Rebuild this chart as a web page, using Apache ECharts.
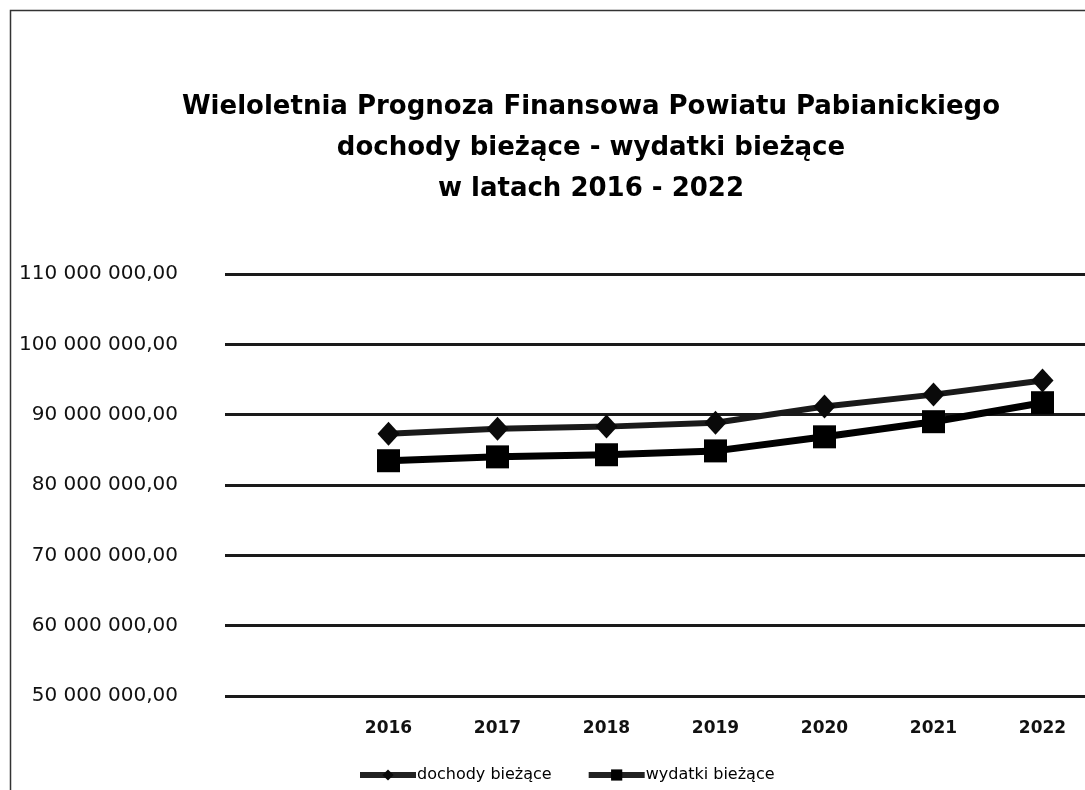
<!DOCTYPE html>
<html>
<head>
<meta charset="utf-8">
<script src="https://cdn.jsdelivr.net/npm/echarts@6/dist/echarts.min.js"></script>
<style>
html,body{margin:0;padding:0;background:#fff;}
#chart{width:1085px;height:790px;}
</style>
</head>
<body>
<div id="chart"></div>
<script>
const years = ['2016','2017','2018','2019','2020','2021','2022'];
const dochody = [87300000, 88000000, 88300000, 88850000, 91150000, 92850000, 94850000];
const wydatki = [83450000, 84000000, 84300000, 84850000, 86850000, 89000000, 91700000];
const yTicks = [50000000, 60000000, 70000000, 80000000, 90000000, 100000000, 110000000];
const titleLines = ['Wieloletnia Prognoza Finansowa Powiatu Pabianickiego', 'dochody bieżące - wydatki bieżące', 'w latach 2016 - 2022'];
const seriesNames = ['dochody bieżące', 'wydatki bieżące'];

function fmt(v){
  const s = String(Math.round(v));
  let out = '';
  for (let i = 0; i < s.length; i++){
    if (i > 0 && (s.length - i) % 3 === 0) out += ' ';
    out += s[i];
  }
  return out + ',00';
}

const chart = echarts.init(document.getElementById('chart'));
chart.setOption({
  backgroundColor: '#fff',
  animation: false,
  title: {
    text: titleLines.join('\n'),
    left: 586,
    top: 82,
    textAlign: 'center',
    textStyle: {fontFamily: 'DejaVu Sans', fontWeight: 'bold', fontSize: 26, lineHeight: 41, color: '#000'}
  },
  graphic: [{
    type: 'rect', left: 8, top: 8, silent: true,
    shape: {width: 1100, height: 800},
    style: {fill: 'none', stroke: '#333', lineWidth: 1.5}
  }],
  legend: {
    data: seriesNames,
    left: 352,
    top: 762,
    itemWidth: 56,
    itemHeight: 14,
    itemGap: 34,
    lineStyle: {width: 6, color: '#222'},
    textStyle: {fontFamily: 'DejaVu Sans', fontSize: 16, color: '#000', padding: [0,0,0,-4]}
  },
  grid: {left: 225, right: -12, top: 274, bottom: 94, outerBoundsMode: 'none', containLabel: false},
  xAxis: {
    type: 'category',
    data: [''].concat(years),
    boundaryGap: true,
    axisLine: {show: false},
    axisTick: {show: false},
    axisLabel: {margin: 24, fontFamily: 'DejaVu Sans', fontWeight: 'bold', fontSize: 17, color: '#111'},
    splitLine: {show: false}
  },
  yAxis: {
    type: 'value',
    min: yTicks[0],
    max: yTicks[yTicks.length - 1],
    interval: yTicks[1] - yTicks[0],
    axisLine: {show: false},
    axisTick: {show: false},
    axisLabel: {margin: 47, fontFamily: 'DejaVu Sans', fontSize: 20, color: '#111', formatter: fmt},
    splitLine: {lineStyle: {color: '#1a1a1a', width: 3}}
  },
  series: [
    {
      name: seriesNames[0], type: 'line',
      data: years.map((y, i) => [y, dochody[i]]),
      symbol: 'diamond', symbolSize: [22, 24],
      lineStyle: {color: '#1a1a1a', width: 6},
      itemStyle: {color: '#0a0a0a'},
      z: 3
    },
    {
      name: seriesNames[1], type: 'line',
      data: years.map((y, i) => [y, wydatki[i]]),
      symbol: 'rect', symbolSize: 23,
      lineStyle: {color: '#000', width: 7},
      itemStyle: {color: '#000'},
      z: 4
    }
  ]
});
</script>
</body>
</html>
